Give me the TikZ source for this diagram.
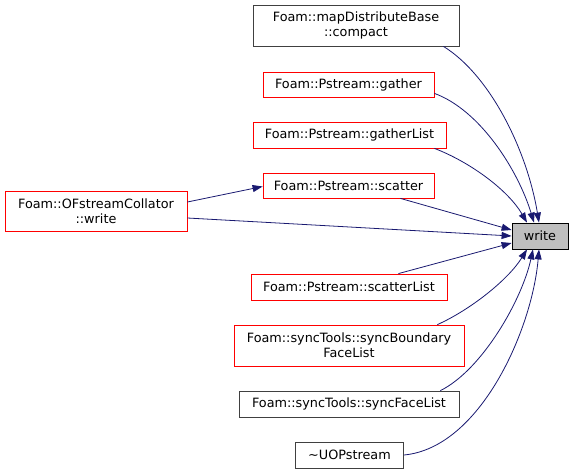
\documentclass[tikz,border=0pt]{standalone}
\usepackage{fontspec}
\setmainfont{DejaVu Sans}
\usetikzlibrary{arrows.meta}
\definecolor{edgeblue}{HTML}{191970}
\definecolor{boxred}{HTML}{FF0000}
\definecolor{boxgray}{HTML}{404040}
\definecolor{fillgray}{HTML}{BFBFBF}
\tikzset{
  fn/.style={draw, line width=0.8bp, fill=white, inner sep=0pt, align=center,
    font=\fontsize{12.8bp}{15bp}\selectfont},
  redbox/.style={fn, draw=boxred},
  blackbox/.style={fn, draw=boxgray},
  edge/.style={draw=edgeblue, line width=0.8bp, -{Triangle[length=10bp,width=7bp,fill=edgeblue]}},
}
\begin{document}
\begin{tikzpicture}[x=1bp,y=-1bp]
\useasboundingbox (0,0) rectangle (572,474);
\node[blackbox, minimum width=206bp, minimum height=41bp] (compact) at (356,25.5) {Foam::mapDistributeBase\\::compact};
\node[redbox, minimum width=171bp, minimum height=25bp] (gather) at (348.5,84.5) {Foam::Pstream::gather};
\node[redbox, minimum width=193bp, minimum height=26bp] (gatherList) at (349.5,135) {Foam::Pstream::gatherList};
\node[redbox, minimum width=171bp, minimum height=25bp] (scatter) at (348.5,185.5) {Foam::Pstream::scatter};
\node[redbox, minimum width=182bp, minimum height=40bp] (ofs) at (96,211) {Foam::OFstreamCollator\\::write};
\node[fn, draw=black, fill=fillgray, minimum width=56bp, minimum height=26bp] (write) at (540,236) {write};
\node[redbox, minimum width=196bp, minimum height=26bp] (scatterList) at (349,287) {Foam::Pstream::scatterList};
\node[redbox, minimum width=230bp, minimum height=41bp] (syncB) at (349,345.5) {Foam::syncTools::syncBoundary\\FaceList};
\node[blackbox, minimum width=220bp, minimum height=26bp] (syncF) at (349,404) {Foam::syncTools::syncFaceList};
\node[blackbox, minimum width=108bp, minimum height=26bp] (uop) at (349.5,455) {\char"223C UOPstream};

\draw[edge] (compact.south east) ++(-16,0) .. controls (490,75) and (527,150) .. ([xshift=-1bp]write.north);
\draw[edge] ([yshift=4bp]gather.south east) .. controls (480,110) and (518,170) .. ([xshift=-6bp]write.north);
\draw[edge] ([xshift=-12bp]gatherList.south east) .. controls (470,162) and (508,190) .. ([xshift=-13bp]write.north);
\draw[edge] ([xshift=-34bp]scatter.south east) -- ([yshift=6bp]write.west);
\draw[edge] ([yshift=-7bp]ofs.east) -- ([yshift=0bp]write.west);
\draw[edge] ([yshift=9bp]ofs.east) -- ([yshift=-1bp]scatter.west);
\draw[edge] ([xshift=-49bp]scatterList.north east) -- ([yshift=-7bp]write.west);
\draw[edge] ([xshift=-27bp]syncB.north east) .. controls (470,310) and (508,280) .. ([xshift=-13bp]write.south);
\draw[edge] ([xshift=-19bp]syncF.north east) .. controls (482,370) and (522,300) .. ([xshift=-7bp]write.south);
\draw[edge] (uop.east) .. controls (480,448) and (532,330) .. ([xshift=-1bp]write.south);
\end{tikzpicture}
\end{document}
